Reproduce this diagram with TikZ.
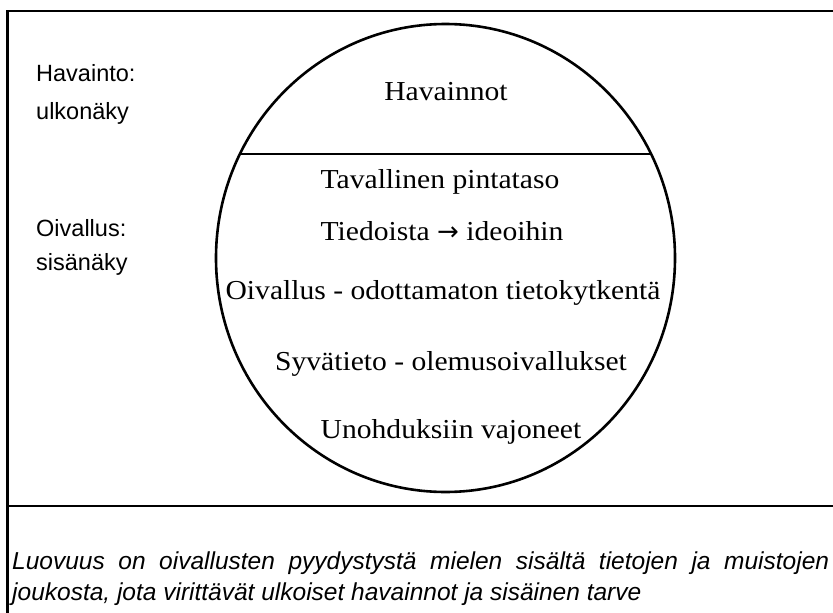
\documentclass[tikz,border=0pt]{standalone}
\usepackage{fontspec}
\setmainfont{Liberation Serif}
\newfontfamily\circfont[FakeStretch=1.08]{Liberation Serif}
\newfontfamily\labfont{Liberation Sans}
\newfontfamily\arrfont{DejaVu Sans}
\usetikzlibrary{shapes.geometric}
\begin{document}
\begin{tikzpicture}[x=1pt,y=-1pt,
  frame/.style={line width=2.2pt},
  egglabel/.style={font=\circfont\fontsize{27.4}{32}\selectfont, anchor=base, inner sep=0pt},
  sidelabel/.style={font=\labfont\fontsize{23.5}{27}\selectfont, anchor=base west, inner sep=0pt},
  captext/.style={font=\labfont\itshape\fontsize{24.5}{30}\selectfont, anchor=base west, inner sep=0pt}]
\useasboundingbox (0,0) rectangle (833,613);
\fill[white] (0,0) rectangle (833,613);
% frame
\coordinate (tl) at (7.5,11);
\coordinate (tr) at (834,11);
\coordinate (bl) at (7.5,614);
\coordinate (sl) at (7.5,506);
\coordinate (sr) at (834,506);
\draw[frame] (tr) -- (tl) -- (bl);
\draw[frame] (sl) -- (sr);
% egg
\node[draw, ellipse, line width=2.6pt, minimum width=459pt, minimum height=468pt, inner sep=0pt] (egg) at (445.5,258) {};
\coordinate (cl) at (240.5,154);
\coordinate (cr) at (650.5,154);
\draw[line width=2.6pt] (cl) -- (cr);
% texts inside
\node[egglabel] (t1) at (446,100) {Havainnot};
\node[egglabel] (t2) at (440,188) {Tavallinen pintataso};
\node[egglabel] (t3) at (442,240) {Tiedoista {\arrfont\fontsize{26}{30}\selectfont →} ideoihin};
\node[egglabel] (t4) at (443,299) {Oivallus - odottamaton tietokytkentä};
\node[egglabel] (t5) at (451,370) {Syvätieto - olemusoivallukset};
\node[egglabel] (t6) at (451,438) {Unohduksiin vajoneet};
% side labels
\node[sidelabel] (s1) at (36,81) {Havainto:};
\node[sidelabel] (s2) at (36,119) {ulkonäky};
\node[sidelabel] (s3) at (36,236) {Oivallus:};
\node[sidelabel] (s4) at (36,270) {sisänäky};
% caption
\node[captext] (cap1) at (12,569) {\makebox[817pt][s]{Luovuus on oivallusten pyydystystä mielen sisältä tietojen ja muistojen}};
\node[captext] (cap2) at (12,600) {joukosta, jota virittävät ulkoiset havainnot ja sisäinen tarve};
\end{tikzpicture}
\end{document}
